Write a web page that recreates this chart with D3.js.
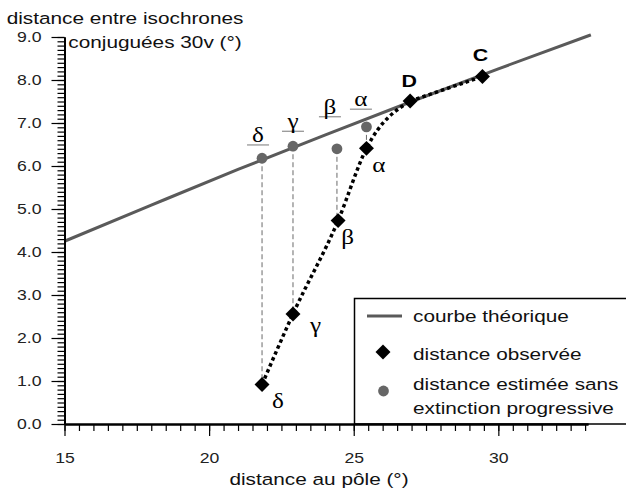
<!DOCTYPE html>
<html>
<head>
<meta charset="utf-8">
<script src="https://cdn.jsdelivr.net/npm/d3@7"></script>
<style>
  body { margin: 0; background: #fff; }
  svg { display: block; font-family: "Liberation Sans", Arial, sans-serif; }
</style>
</head>
<body>
<div id="chart"></div>
<script>
// observed distances (black diamonds)
const obsNames = ["δ", "γ", "β", "α", "D", "C"];
const obsX = [21.83, 22.9, 24.46, 25.44, 26.95, 29.45];
const obsY = [0.92, 2.56, 4.73, 6.41, 7.51, 8.08];

// estimated distances without progressive extinction (grey dots)
const estNames = ["δ", "γ", "β", "α"];
const estX = [21.83, 22.9, 24.42, 25.44];
const estY = [6.18, 6.46, 6.40, 6.91];

// theoretical curve
const theoX = [15, 18, 21, 24, 27, 30, 33.2];
const theoY = [4.25, 5.09, 5.92, 6.72, 7.50, 8.26, 9.05];

const xTicks = [15, 20, 25, 30];
const yTicks = [0, 1, 2, 3, 4, 5, 6, 7, 8, 9];

const legendItems = ["courbe théorique", "distance observée", "distance estimée sans", "extinction progressive"];

// label placement (pixels, relative to the point)
const obsLabelOffset = [[16, 24], [22.5, 18], [9.5, 23], [12.3, 24], [-1, -14], [-2, -16]];
const estLabelOffset = [[-4, -13.3], [0, -15], [-7, -32], [-5.5, -17.7]];

const W = 626, H = 490;
const SX = 1.26; // the original picture is stretched horizontally
const grey = "#5a5a5a";

const svg = d3.select("#chart").append("svg")
  .attr("width", W)
  .attr("height", H);

const x = d3.scaleLinear().domain([15, 33.1]).range([64.5, 588]);
const y = d3.scaleLinear().domain([0, 9]).range([424, 37]);

function label(parent, px, py, txt) {
  return parent.append("text")
    .attr("transform", "translate(" + px + "," + py + ") scale(" + SX + ",1)")
    .text(txt);
}

// legend box (drawn first, axes go on top)
const legend = svg.append("g").attr("class", "legend");
legend.append("rect")
  .attr("x", 354.5).attr("y", 298.5)
  .attr("width", 300).attr("height", 125.5)
  .style("fill", "#fff").style("stroke", "#000").style("stroke-width", 1.5);

// theoretical curve
const theoLine = d3.line()
  .x((d, i) => x(theoX[i]))
  .y((d, i) => y(theoY[i]))
  .curve(d3.curveMonotoneX);

svg.append("path")
  .datum(theoX)
  .attr("d", theoLine)
  .style("fill", "none")
  .style("stroke", grey)
  .style("stroke-width", 3);

// vertical dashed links grey dot -> black diamond
svg.selectAll("line.link")
  .data(estX)
  .enter().append("line")
  .attr("class", "link")
  .attr("x1", (d) => x(d))
  .attr("x2", (d) => x(d))
  .attr("y1", (d, i) => y(estY[i]))
  .attr("y2", (d, i) => y(obsY[i]))
  .style("stroke", "#444")
  .style("stroke-width", 0.8)
  .style("stroke-dasharray", "5,3");

// dotted observed curve: smooth from δ to D, then straight along the line to C
const pts = obsX.map((d, i) => [x(d), y(obsY[i])]);
const curvePart = d3.line().curve(d3.curveMonotoneX);
const straightPart = d3.line();

[curvePart(pts.slice(0, 5)), straightPart(pts.slice(4))].forEach((d) => {
  svg.append("path")
    .attr("d", d)
    .style("fill", "none")
    .style("stroke", "#000")
    .style("stroke-width", 3.5)
    .style("stroke-dasharray", "3.5,3");
});

// grey dots
svg.selectAll("circle.est")
  .data(estX)
  .enter().append("circle")
  .attr("class", "est")
  .attr("cx", (d) => x(d))
  .attr("cy", (d, i) => y(estY[i]))
  .attr("r", 5.4)
  .style("fill", "#666");

// black diamonds
const diamond = d3.symbol().type(d3.symbolSquare).size(112);
svg.selectAll("path.obs")
  .data(obsX)
  .enter().append("path")
  .attr("class", "obs")
  .attr("d", diamond)
  .attr("transform", (d, i) => "translate(" + x(d) + "," + y(obsY[i]) + ") rotate(45)")
  .style("fill", "#000");

// labels of the observed points
const obsLabels = svg.append("g");
obsNames.forEach((n, i) => {
  const t = label(obsLabels, x(obsX[i]) + obsLabelOffset[i][0], y(obsY[i]) + obsLabelOffset[i][1], n)
    .style("text-anchor", "middle");
  if (i < 4) {
    t.style("font-family", "'Liberation Serif', serif").style("font-size", "20px");
  } else {
    t.style("font-weight", "bold").style("font-size", "17px");
  }
});

// labels of the estimated points with their small bar
const estLabels = svg.append("g");
estNames.forEach((n, i) => {
  const bx = x(estX[i]) + estLabelOffset[i][0];
  const by = y(estY[i]) + estLabelOffset[i][1];
  estLabels.append("line")
    .attr("x1", bx - 11).attr("x2", bx + 11)
    .attr("y1", by).attr("y2", by)
    .style("stroke", "#777").style("stroke-width", 1);
  label(estLabels, bx, by - 3, n)
    .style("text-anchor", "middle")
    .style("font-family", "'Liberation Serif', serif")
    .style("font-size", "20px");
});

// axes
const xMinor = d3.axisBottom(x).tickValues(d3.range(15, 33.01, 0.5)).tickSize(7).tickSizeOuter(0).tickFormat("");
const xAxis = d3.axisBottom(x).tickValues(xTicks).tickSize(12).tickSizeOuter(0).tickPadding(17).tickFormat(d3.format("d"));
const yMinor = d3.axisLeft(y).tickValues(d3.range(0, 9.001, 0.1)).tickSize(7).tickSizeOuter(0).tickFormat("");
const yAxis = d3.axisLeft(y).tickValues(yTicks).tickSize(13).tickSizeOuter(0).tickPadding(5.3).tickFormat(d3.format(".1f"));

[xMinor, xAxis].forEach((a) => {
  svg.append("g")
    .attr("class", "x axis")
    .attr("transform", "translate(0," + y(0) + ")")
    .call(a);
});
[yMinor, yAxis].forEach((a) => {
  svg.append("g")
    .attr("class", "y axis")
    .attr("transform", "translate(" + x(15) + ",0)")
    .call(a);
});

svg.selectAll(".axis path.domain").style("stroke", "#000").style("stroke-width", 2);
svg.selectAll(".axis .tick line").style("stroke", "#000").style("stroke-width", 1.2);
svg.selectAll(".axis text")
  .style("font-family", "'Liberation Sans', Arial, sans-serif")
  .style("font-size", "14px")
  .style("fill", "#222")
  .attr("transform", "scale(" + SX + ",1)");

// axis titles
const titles = svg.append("g").style("font-size", "16.5px").style("fill", "#111");
label(titles, 6.7, 24, "distance entre isochrones");
label(titles, 68.3, 47.5, "conjuguées 30v (°)");
label(titles, 319, 485, "distance au pôle (°)").style("text-anchor", "middle");

// legend entries
legend.append("line")
  .attr("x1", 367).attr("x2", 402)
  .attr("y1", 316).attr("y2", 316)
  .style("stroke", grey).style("stroke-width", 3);
legend.append("path")
  .attr("d", diamond)
  .attr("transform", "translate(383,352) rotate(45)")
  .style("fill", "#000");
legend.append("circle")
  .attr("cx", 383.5).attr("cy", 391).attr("r", 5.4)
  .style("fill", "#666");

const legendBase = [322, 360, 389.5, 413.5];
const legendText = legend.append("g").style("font-size", "16.5px").style("fill", "#111");
legendItems.forEach((t, i) => {
  label(legendText, 413, legendBase[i], t);
});
</script>
</body>
</html>
